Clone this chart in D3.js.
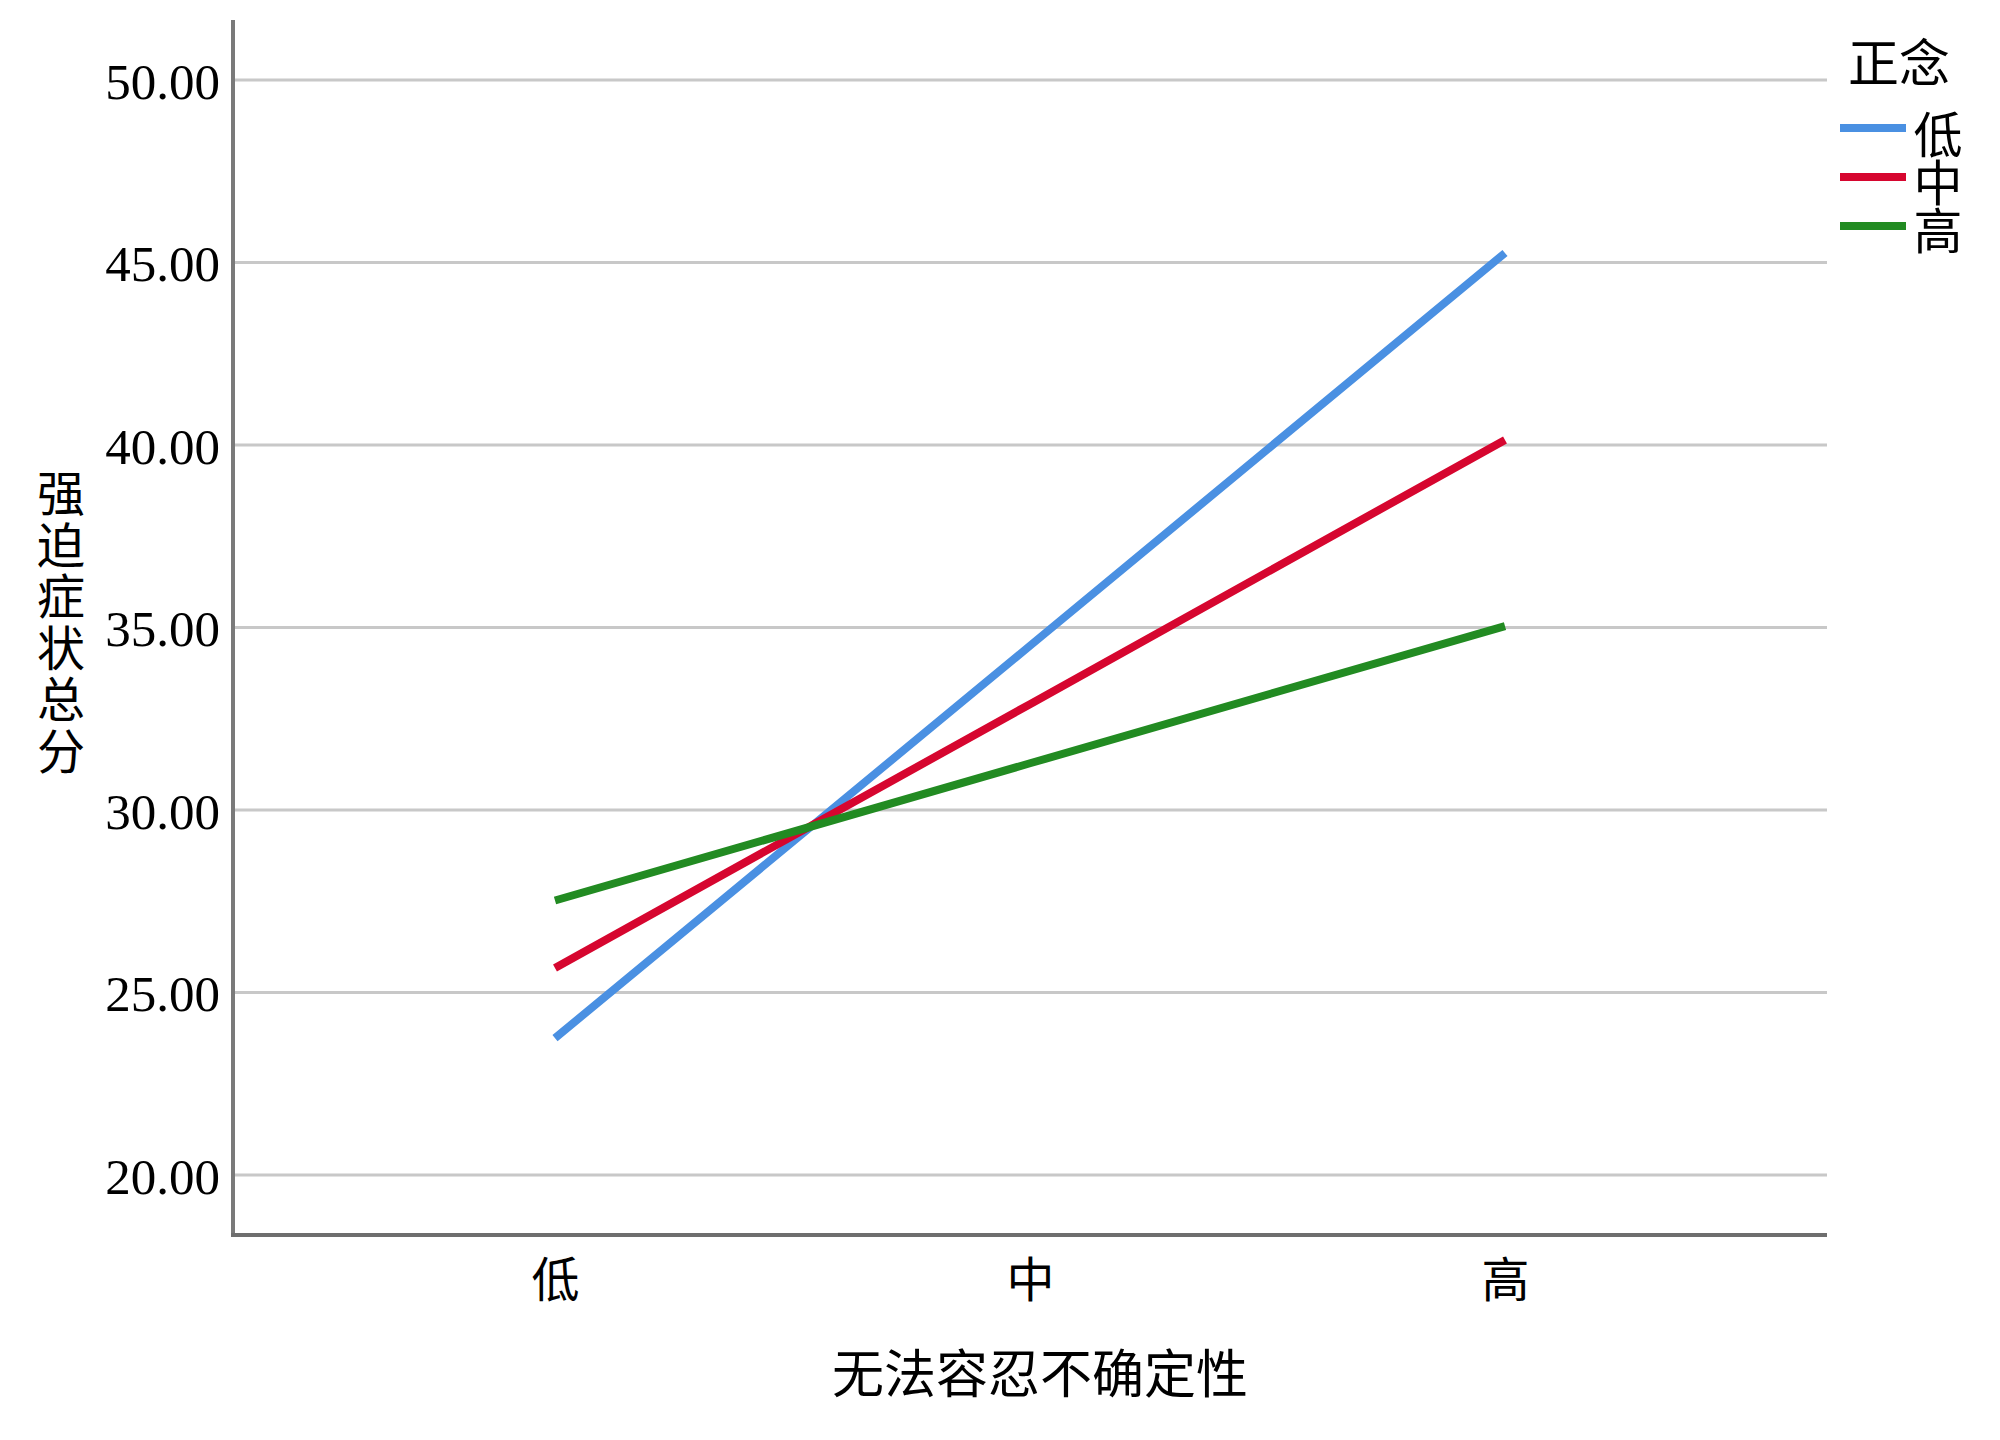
<!DOCTYPE html>
<html>
<head>
<meta charset="utf-8">
<script src="https://cdn.jsdelivr.net/npm/d3@7"></script>
<style>
  html, body { margin: 0; padding: 0; background: #fff; }
  svg { display: block; }
  .vert { writing-mode: vertical-rl; text-orientation: upright; }
</style>
</head>
<body>
<svg id="chart" width="2000" height="1440"></svg>
<script>
// ---- data ----
const categories = ["低", "中", "高"];
const seriesNames = ["低", "中", "高"];
const seriesLow = [23.75, 34.5, 45.26];
const seriesMid = [25.67, 32.9, 40.14];
const seriesHigh = [27.52, 31.28, 35.04];
const yTicks = [20, 25, 30, 35, 40, 45, 50];
const colors = ["#4a90e2", "#d6062f", "#228b22"];
const xTitle = "无法容忍不确定性";
const yTitle = "强迫症状总分";
const legendTitle = "正念";

const allSeries = [seriesLow, seriesMid, seriesHigh];

const svg = d3.select("#chart");
const axisLeft = 233, axisRight = 1827, axisTop = 20, axisBottom = 1235;

const x = d3.scalePoint().domain(categories).range([555, 1505]);
const y = d3.scaleLinear().domain([20, 50]).range([1175, 80]);

const serifFont = "'Liberation Serif', 'Times New Roman', serif";
const cjkFont = "'Noto Sans CJK SC', sans-serif";

// gridlines
svg.append("g").selectAll("line").data(yTicks).join("line")
  .attr("x1", axisLeft).attr("x2", axisRight)
  .attr("y1", d => y(d)).attr("y2", d => y(d))
  .attr("stroke", "#c8c8c8").attr("stroke-width", 3);

// y tick labels via axis
const yAxis = svg.append("g").attr("transform", `translate(${axisLeft},0)`)
  .call(d3.axisLeft(y).tickValues(yTicks).tickFormat(d3.format(".2f")).tickSize(0).tickPadding(13));
yAxis.select(".domain").remove();
yAxis.selectAll("text")
  .attr("font-family", serifFont).attr("font-size", 51).attr("fill", "#000")
  .attr("dy", "0.36em");

// x tick labels via axis
const xAxis = svg.append("g").attr("transform", `translate(0,${axisBottom})`)
  .call(d3.axisBottom(x).tickSize(0).tickPadding(28));
xAxis.select(".domain").remove();
xAxis.selectAll("text")
  .attr("font-family", cjkFont).attr("font-size", 48).attr("fill", "#000");

// axis lines
svg.append("line").attr("x1", axisLeft).attr("x2", axisLeft)
  .attr("y1", axisTop).attr("y2", axisBottom)
  .attr("stroke", "#7a7a7a").attr("stroke-width", 4);
svg.append("line").attr("x1", axisLeft - 2).attr("x2", axisRight)
  .attr("y1", axisBottom).attr("y2", axisBottom)
  .attr("stroke", "#6e6e6e").attr("stroke-width", 4);

// lines
const line = d3.line().x((d, i) => x(categories[i])).y(d => y(d));
svg.append("g").selectAll("path").data(allSeries).join("path")
  .attr("d", d => line(d))
  .attr("fill", "none")
  .attr("stroke", (d, i) => colors[i])
  .attr("stroke-width", 8);

// x title
svg.append("text").attr("x", 1040).attr("y", 1375).attr("dy", "0.35em")
  .attr("text-anchor", "middle")
  .attr("font-family", cjkFont).attr("font-size", 52).attr("fill", "#000")
  .text(xTitle);

// y title (vertical writing)
svg.append("text").attr("class", "vert")
  .attr("font-family", cjkFont).attr("font-size", 48).attr("fill", "#000")
  .attr("letter-spacing", 3.5)
  .attr("x", 61).attr("y", 469)
  .text(yTitle);

// legend
svg.append("text").attr("x", 1899).attr("y", 64).attr("dy", "0.35em")
  .attr("text-anchor", "middle")
  .attr("font-family", cjkFont).attr("font-size", 51).attr("fill", "#000")
  .text(legendTitle);
svg.append("g").selectAll("line").data(seriesNames).join("line")
  .attr("x1", 1840).attr("x2", 1906)
  .attr("y1", (d, i) => 128 + i * 49).attr("y2", (d, i) => 128 + i * 49)
  .attr("stroke", (d, i) => colors[i]).attr("stroke-width", 8);
svg.append("text").attr("class", "vert")
  .attr("font-family", cjkFont).attr("font-size", 49).attr("fill", "#000")
  .attr("letter-spacing", -1)
  .attr("x", 1938).attr("y", 110)
  .text(seriesNames.join(""));
</script>
</body>
</html>
